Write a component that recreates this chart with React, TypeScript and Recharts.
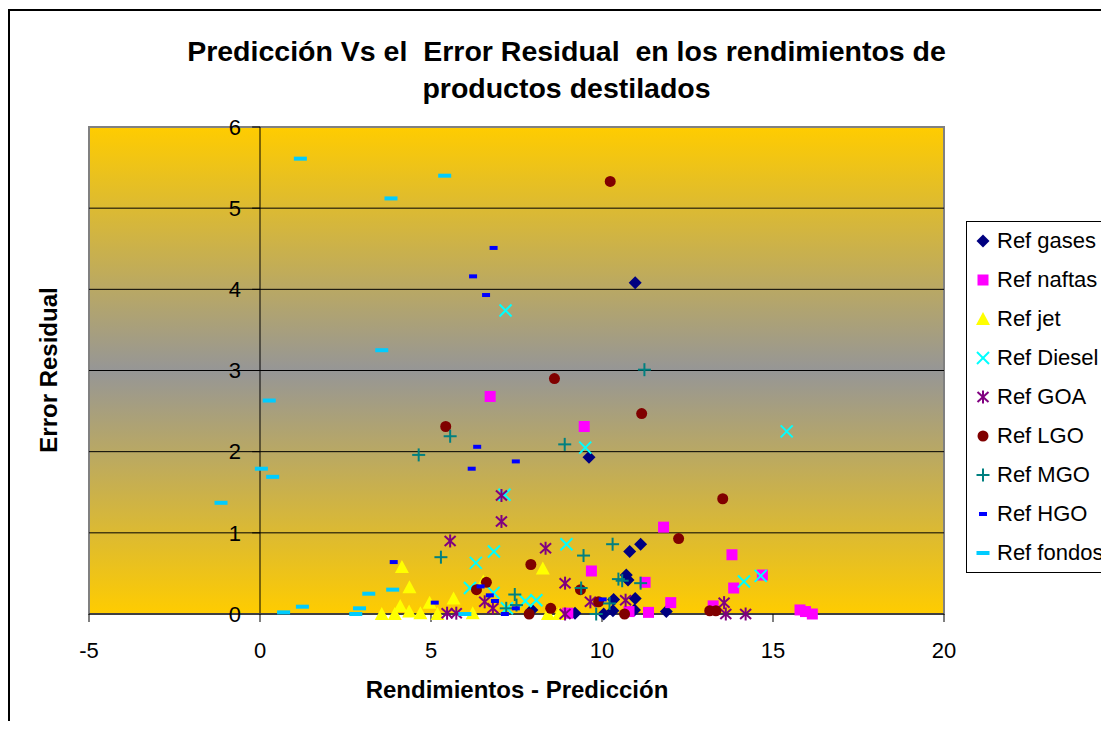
import React from 'react';
import {
  ScatterChart, Scatter, XAxis, YAxis, ReferenceArea, ReferenceLine, ReferenceDot, Legend,
} from 'recharts';

type Pt = [number, number];

// [Rendimientos - Predicción, Error Residual]
const gasesPts: Pt[] = [
  [10.97, 4.08], [9.62, 1.93], [11.13, 0.86], [10.81, 0.77], [10.71, 0.48], [10.76, 0.42],
  [10.97, 0.19], [10.34, 0.18], [10.32, 0.04], [10.05, 0.0], [10.95, 0.05], [11.88, 0.03],
  [9.21, 0.01], [7.95, 0.05],
];
const naftasPts: Pt[] = [
  [6.73, 2.68], [9.48, 2.31], [11.8, 1.07], [13.8, 0.73], [9.69, 0.53], [11.26, 0.39],
  [13.85, 0.32], [14.69, 0.48], [12.01, 0.14], [11.36, 0.02], [10.79, 0.03], [9.0, 0.01],
  [13.25, 0.1], [15.79, 0.05], [15.95, 0.03], [16.15, 0.0],
];
const jetPts: Pt[] = [
  [4.15, 0.58], [4.37, 0.33], [4.1, 0.1], [3.56, 0.0], [3.94, 0.0], [4.36, 0.03],
  [4.69, 0.01], [4.96, 0.14], [5.19, 0.0], [5.66, 0.19], [6.22, 0.01], [6.53, 0.4],
  [8.27, 0.56], [8.42, 0.0], [8.74, 0.0],
];
const dieselPts: Pt[] = [
  [7.18, 3.74], [9.51, 2.05], [15.4, 2.25], [7.15, 1.47], [6.84, 0.77], [6.31, 0.63],
  [6.14, 0.32], [6.83, 0.26], [7.22, 0.07], [7.76, 0.16], [8.08, 0.17], [8.96, 0.86],
  [14.15, 0.4], [14.64, 0.47],
];
const goaPts: Pt[] = [
  [7.06, 1.46], [7.06, 1.14], [5.56, 0.9], [6.57, 0.15], [6.81, 0.07], [5.47, 0.01],
  [5.74, 0.01], [8.35, 0.81], [8.92, 0.38], [9.66, 0.15], [10.69, 0.17], [8.92, 0.0],
  [13.57, 0.14], [13.62, 0.0], [14.2, 0.0],
];
const lgoPts: Pt[] = [
  [10.24, 5.33], [8.61, 2.9], [11.16, 2.47], [5.43, 2.31], [13.53, 1.42], [12.24, 0.93],
  [7.92, 0.61], [9.37, 0.3], [8.5, 0.07], [7.87, 0.0], [9.9, 0.15], [10.66, 0.0],
  [13.15, 0.04], [13.33, 0.04], [6.62, 0.39], [6.33, 0.3],
];
const mgoPts: Pt[] = [
  [11.24, 3.01], [5.56, 2.19], [8.91, 2.09], [4.64, 1.96], [5.29, 0.7], [7.45, 0.24],
  [7.2, 0.07], [7.5, 0.11], [10.31, 0.86], [9.46, 0.72], [10.48, 0.43], [10.59, 0.41],
  [11.13, 0.38], [9.39, 0.32], [10.22, 0.13], [9.83, 0.0],
];
const hgoPts: Pt[] = [
  [6.83, 4.51], [6.23, 4.16], [6.61, 3.93], [6.35, 2.06], [6.19, 1.79], [7.48, 1.88],
  [3.91, 0.64], [5.11, 0.14], [6.45, 0.34], [6.72, 0.23], [6.87, 0.16], [7.16, 0.0],
  [7.48, 0.07], [10.02, 0.18],
];
const fondosPts: Pt[] = [
  [1.18, 5.61], [3.83, 5.12], [5.4, 5.4], [3.56, 3.25], [0.27, 2.63], [0.04, 1.79],
  [0.37, 1.69], [-1.14, 1.37], [0.69, 0.02], [1.24, 0.09], [3.18, 0.25], [2.91, 0.07],
  [2.8, 0.0], [3.88, 0.3], [5.99, 0.0],
];

const xTicks = [-5, 0, 5, 10, 15, 20];
const yTicks = [0, 1, 2, 3, 4, 5, 6];
const gridLines = [1, 2, 3, 4, 5];

const FONT = "'Liberation Sans', Arial, sans-serif";

type MarkFn = (cx: number, cy: number) => React.ReactElement;

const marks: Record<string, MarkFn> = {
  diamond: (cx, cy) => (
    <path d={`M${cx},${cy - 6.5}L${cx + 6.5},${cy}L${cx},${cy + 6.5}L${cx - 6.5},${cy}Z`} fill="#000080" />
  ),
  square: (cx, cy) => <rect x={cx - 5.5} y={cy - 5.5} width={11} height={11} fill="#FF00FF" />,
  triangle: (cx, cy) => (
    <path d={`M${cx},${cy - 7}L${cx + 7},${cy + 6}L${cx - 7},${cy + 6}Z`} fill="#FFFF00" />
  ),
  cross: (cx, cy) => (
    <g stroke="#00FFFF" strokeWidth={2}>
      <line x1={cx - 6} y1={cy - 6} x2={cx + 6} y2={cy + 6} />
      <line x1={cx - 6} y1={cy + 6} x2={cx + 6} y2={cy - 6} />
    </g>
  ),
  star: (cx, cy) => (
    <g stroke="#800080" strokeWidth={2}>
      <line x1={cx} y1={cy - 6.5} x2={cx} y2={cy + 6.5} />
      <line x1={cx - 5.5} y1={cy - 5} x2={cx + 5.5} y2={cy + 5} />
      <line x1={cx - 5.5} y1={cy + 5} x2={cx + 5.5} y2={cy - 5} />
    </g>
  ),
  circle: (cx, cy) => <circle cx={cx} cy={cy} r={5.5} fill="#800000" />,
  plus: (cx, cy) => (
    <g stroke="#008080" strokeWidth={2}>
      <line x1={cx - 6.5} y1={cy} x2={cx + 6.5} y2={cy} />
      <line x1={cx} y1={cy - 6.5} x2={cx} y2={cy + 6.5} />
    </g>
  ),
  shortDash: (cx, cy) => <rect x={cx - 4} y={cy - 2} width={8} height={4} fill="#0000FF" />,
  longDash: (cx, cy) => <rect x={cx - 6.5} y={cy - 2} width={13} height={4} fill="#00CCFF" />,
};

const series = [
  { name: 'Ref gases', pts: gasesPts, mark: 'diamond' },
  { name: 'Ref naftas', pts: naftasPts, mark: 'square' },
  { name: 'Ref jet', pts: jetPts, mark: 'triangle' },
  { name: 'Ref Diesel', pts: dieselPts, mark: 'cross' },
  { name: 'Ref GOA', pts: goaPts, mark: 'star' },
  { name: 'Ref LGO', pts: lgoPts, mark: 'circle' },
  { name: 'Ref MGO', pts: mgoPts, mark: 'plus' },
  { name: 'Ref HGO', pts: hgoPts, mark: 'shortDash' },
  { name: 'Ref fondos', pts: fondosPts, mark: 'longDash' },
];

const toRows = (pts: Pt[]) => pts.map(([x, y]) => ({ x, y }));

function LegendBox() {
  return (
    <div style={{ width: 190, border: '1px solid #000', background: '#fff', fontFamily: FONT, fontSize: 22, color: '#000' }}>
      {series.map((s) => (
        <div key={s.name} style={{ display: 'flex', alignItems: 'center', height: 38.9, whiteSpace: 'nowrap' }}>
          <svg width={30} height={20} style={{ flex: 'none' }}>
            {marks[s.mark](16, 10)}
          </svg>
          <span>{s.name}</span>
        </div>
      ))}
    </div>
  );
}

export default function App() {
  return (
    <div style={{ position: 'relative', width: 1109, height: 729, margin: -8, overflow: 'hidden', background: '#fff', fontFamily: FONT }}>
      <div style={{ position: 'absolute', left: 8, top: 9, width: 1300, height: 900, border: '2px solid #000' }} />

      <div style={{ position: 'absolute', left: 0, top: 33, width: 1133, textAlign: 'center', fontWeight: 'bold', fontSize: 28.5, lineHeight: '37px', whiteSpace: 'pre' }}>
        {'Predicción Vs el  Error Residual  en los rendimientos de\nproductos destilados'}
      </div>

      <div style={{ position: 'absolute', left: 0, top: 0 }}>
        <ScatterChart width={1109} height={729} margin={{ top: 127, right: 165, bottom: 75, left: 89 }}>
          <defs>
            <linearGradient id="bg" x1="0" y1="0" x2="0" y2="1">
              <stop offset="0%" stopColor="#FFCC00" />
              <stop offset="50%" stopColor="#969696" />
              <stop offset="100%" stopColor="#FFCC00" />
            </linearGradient>
          </defs>
          <XAxis
            type="number"
            dataKey="x"
            domain={[-5, 20]}
            ticks={xTicks}
            interval={0}
            height={40}
            tickSize={8}
            tickMargin={20}
            tick={{ fontSize: 22, fill: '#000' }}
            tickLine={{ stroke: '#000' }}
            axisLine={{ stroke: '#404040', strokeWidth: 2 }}
          />
          <YAxis type="number" dataKey="y" domain={[0, 6]} ticks={yTicks} hide />
          <ReferenceArea x1={-5} x2={20} y1={0} y2={6} fill="url(#bg)" fillOpacity={1} stroke="#808080" strokeWidth={2} />
          {gridLines.map((g) => (
            <ReferenceLine key={`g${g}`} y={g} stroke="#000" strokeWidth={1} />
          ))}
          <ReferenceLine x={0} stroke="#000" strokeWidth={1} />
          {yTicks.map((t) => (
            <ReferenceLine key={`t${t}`} segment={[{ x: -0.23, y: t }, { x: 0, y: t }]} stroke="#000" />
          ))}
          {yTicks.map((t) => (
            <ReferenceDot
              key={`l${t}`}
              x={0}
              y={t}
              r={0}
              fill="none"
              stroke="none"
              label={{ value: String(t), position: 'left', offset: 19, fontSize: 22, fill: '#000' }}
            />
          ))}
          {series.map((s) => (
            <Scatter
              key={s.name}
              name={s.name}
              data={toRows(s.pts)}
              isAnimationActive={false}
              shape={(p: any) => marks[s.mark](p.cx, p.cy)}
            />
          ))}
          <Legend
            layout="vertical"
            align="center"
            verticalAlign="middle"
            content={() => <LegendBox />}
            wrapperStyle={{ left: 966, top: 221, width: 190, height: 350 }}
          />
        </ScatterChart>
      </div>

      <div style={{ position: 'absolute', left: 0, top: 678, width: 1034, textAlign: 'center', fontWeight: 'bold', fontSize: 24, lineHeight: '24px' }}>
        Rendimientos - Predicción
      </div>
      <div
        style={{
          position: 'absolute', left: 49, top: 370, fontWeight: 'bold', fontSize: 24, lineHeight: '24px',
          whiteSpace: 'nowrap', transform: 'translate(-50%, -50%) rotate(-90deg)',
        }}
      >
        Error Residual
      </div>
    </div>
  );
}
